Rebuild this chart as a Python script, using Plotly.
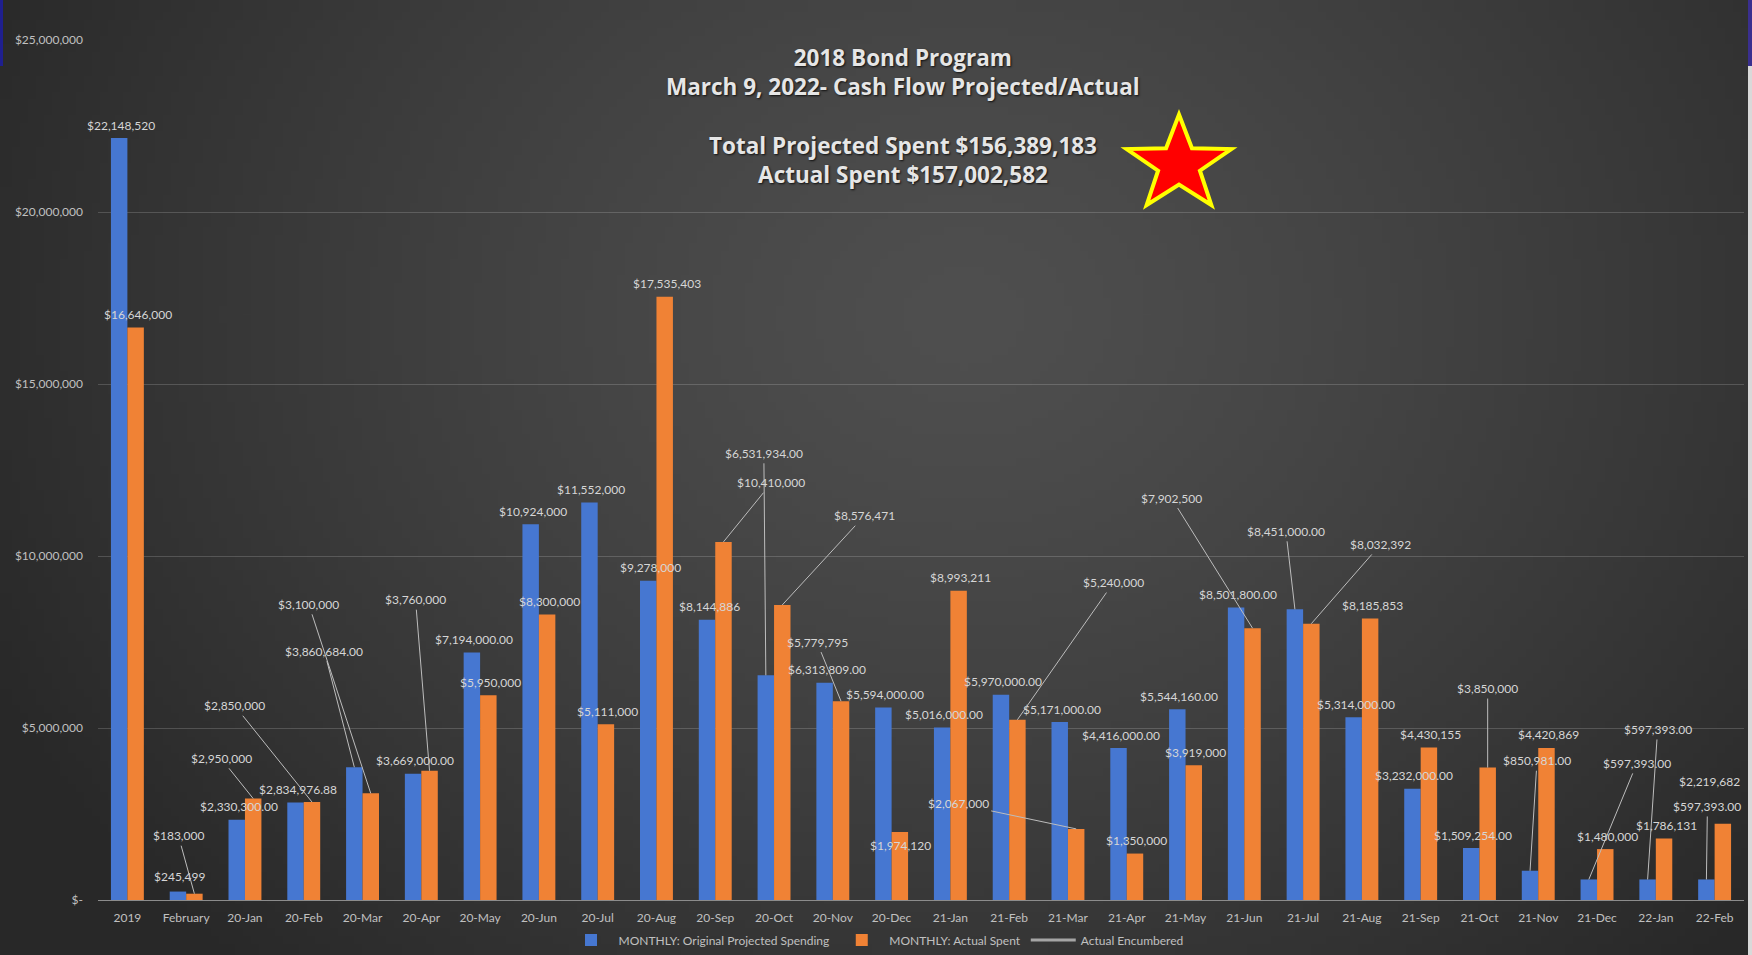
import base64
import struct
import zlib

import numpy as np
import plotly.graph_objects as go

# ---------------- data ----------------
categories = ["2019", "February", "20-Jan", "20-Feb", "20-Mar", "20-Apr", "20-May",
              "20-Jun", "20-Jul", "20-Aug", "20-Sep", "20-Oct", "20-Nov", "20-Dec",
              "21-Jan", "21-Feb", "21-Mar", "21-Apr", "21-May", "21-Jun", "21-Jul",
              "21-Aug", "21-Sep", "21-Oct", "21-Nov", "21-Dec", "22-Jan", "22-Feb"]

projected = [22148520, 245499, 2330300, 2834976.88, 3860684, 3669000, 7194000,
             10924000, 11552000, 9278000, 8144886, 6531934, 6313809, 5594000,
             5016000, 5970000, 5171000, 4416000, 5544160, 8501800, 8451000,
             5314000, 3232000, 1509254, 850981, 597393, 597393, 597393]

actual = [16646000, 183000, 2950000, 2850000, 3100000, 3760000, 5950000,
          8300000, 5111000, 17535403, 10410000, 8576471, 5779795, 1974120,
          8993211, 5240000, 2067000, 1350000, 3919000, 7902500, 8032392,
          8185853, 4430155, 3850000, 4420869, 1480000, 1786131, 2219682]

encumbered = [None] * len(categories)

projected_label_decimals = [False, False, True, True, True, True, True, False, False,
                            False, False, True, True, True, True, True, True, True,
                            True, True, True, True, True, True, True, True, True, True]
actual_label_decimals = [False] * len(categories)

y_tickvals = [0, 5000000, 10000000, 15000000, 20000000, 25000000]
y_ticktext = ["$-", "$5,000,000", "$10,000,000", "$15,000,000", "$20,000,000", "$25,000,000"]

title_lines = ["2018 Bond Program", "March 9, 2022- Cash Flow Projected/Actual",
               "Total Projected Spent $156,389,183", "Actual Spent $157,002,582"]

series_names = ["MONTHLY: Original Projected Spending", "MONTHLY: Actual Spent",
                "Actual Encumbered"]

# ---------------- layout geometry ----------------
W, H = 1752, 955
ML, MR, MT, MB = 98, 8, 40, 55
PW, PH = W - ML - MR, H - MT - MB


def px(x):
    return (x - ML) / PW


def py(y):
    return 1 - (y - MT) / PH


BLUE = "#4677d1"
ORANGE = "#f08235"
GREY = "#a5a5a5"
LABEL_COLOR = "#d6d6d6"
TICK_COLOR = "#c0c0c0"
FONT = "Lato"
TITLE_FONT = "Open Sans"

# background gradient image
gw, gh = 220, 120
xx, yy = np.meshgrid(np.linspace(0, 1, gw), np.linspace(0, 1, gh))
r = np.sqrt(((xx - 0.55) / 0.62) ** 2 + ((yy - 0.33) / 0.95) ** 2)
r = np.clip(r, 0, 1)
val = 79 - (79 - 40) * r ** 1.3
img = np.stack([val, val, val], axis=-1).astype(np.uint8)


def png_uri(arr):
    h, w, _ = arr.shape
    raw = b"".join(b"\x00" + arr[i].tobytes() for i in range(h))

    def chunk(t, d):
        c = struct.pack(">I", len(d)) + t + d
        return c + struct.pack(">I", zlib.crc32(t + d) & 0xFFFFFFFF)

    data = (b"\x89PNG\r\n\x1a\n"
            + chunk(b"IHDR", struct.pack(">IIBBBBB", w, h, 8, 2, 0, 0, 0))
            + chunk(b"IDAT", zlib.compress(raw, 9))
            + chunk(b"IEND", b""))
    return "data:image/png;base64," + base64.b64encode(data).decode()


# ---------------- figure ----------------
fig = go.Figure()
fig.add_trace(go.Bar(x=categories, y=projected, name=series_names[0],
                     marker=dict(color=BLUE, line=dict(width=0))))
fig.add_trace(go.Bar(x=categories, y=actual, name=series_names[1],
                     marker=dict(color=ORANGE, line=dict(width=0))))
fig.add_trace(go.Scatter(x=categories, y=encumbered, name=series_names[2], mode="lines",
                         line=dict(color=GREY, width=3)))

# label placement (pixel offsets of label centre from bar top) -- styling only
default_off = (2, -13, False)
proj_off = {1: (2, -15, False), 4: (-30, -116, True), 11: (-2, -222, True),
            20: (-9, -78, True), 24: (7, -110, True), 25: (48, -116, True),
            26: (10, -150, True), 27: (1, -73, True)}
act_off = {1: (-16, -58, True), 2: (-32, -40, True), 3: (-77, -96, True),
           4: (-62, -189, True), 5: (-14, -171, True), 10: (48, -59, True),
           11: (82, -89, True), 12: (-24, -59, True), 13: (1, 13, False),
           15: (96, -137, True), 16: (-118, -25, True), 19: (-81, -130, True),
           20: (69, -79, True), 23: (0, -79, True), 27: (-13, -42, False)}

bar_half = 8.2
annotations = []
for vals, decs, offs, shift in [(projected, projected_label_decimals, proj_off, -bar_half),
                                (actual, actual_label_decimals, act_off, bar_half)]:
    for i, v in enumerate(vals):
        txt = "${:,.2f}".format(v) if decs[i] else "${:,.0f}".format(v)
        dx, dy, leader = offs.get(i, default_off)
        a = dict(x=i, y=v, text=txt, xref="x", yref="y",
                 font=dict(family=FONT, size=12, color=LABEL_COLOR))
        if leader:
            a.update(showarrow=True, ax=dx, ay=dy, xshift=shift, arrowhead=0,
                     arrowwidth=1, arrowcolor="#bdbdbd", standoff=0, startstandoff=1)
        else:
            a.update(showarrow=False, xshift=shift + dx, yshift=-dy)
        annotations.append(a)

# titles (two blocks of two lines)
title_blocks = [((title_lines[0], title_lines[1]), 72), ((title_lines[2], title_lines[3]), 159.5)]
for (l1, l2), ypix in title_blocks:
    annotations.append(dict(x=px(903), y=py(ypix), xref="paper", yref="paper",
                            text="<b>" + l1 + "</b><br><b>" + l2 + "</b>",
                            showarrow=False, xanchor="center", yanchor="middle", align="center",
                            font=dict(family=TITLE_FONT, size=22.5, color="#e6e6e6",
                                      shadow="1px 1px 2px #111")))

# star
cx, cy, RX, RY, RIN = 1179, 164.5, 55, 50, 0.4
pts = []
for k in range(10):
    ang = -np.pi / 2 + k * np.pi / 5
    f = 1 if k % 2 == 0 else RIN
    pts.append((px(cx + f * RX * np.cos(ang)), py(cy + f * RY * np.sin(ang))))
star_path = "M " + " L ".join(f"{a:.5f},{b:.5f}" for a, b in pts) + " Z"

shapes = [
    dict(type="path", path=star_path, xref="paper", yref="paper",
         fillcolor="#ff0000", line=dict(color="#ffff00", width=4), layer="above"),
    dict(type="rect", xref="paper", yref="paper", x0=px(0), x1=px(3), y0=py(66), y1=py(0),
         fillcolor="#1f1f8f", line=dict(width=0)),
    dict(type="rect", xref="paper", yref="paper", x0=px(1748), x1=px(1753), y0=py(955), y1=py(66),
         fillcolor="#d9d9d9", line=dict(width=0)),
    dict(type="rect", xref="paper", yref="paper", x0=px(1748), x1=px(1753), y0=py(66), y1=py(0),
         fillcolor="#3a2f8f", line=dict(width=0)),
]

fig.update_layout(
    width=W, height=H, autosize=False,
    margin=dict(l=ML, r=MR, t=MT, b=MB, autoexpand=False),
    paper_bgcolor="#2e2e2e",
    plot_bgcolor="rgba(0,0,0,0)",
    barmode="group", bargap=0.44, bargroupgap=0,
    font=dict(family=FONT, color=TICK_COLOR),
    showlegend=True,
    legend=dict(orientation="h", x=px(876), xanchor="center", y=py(940), yanchor="middle",
                font=dict(family=FONT, size=12, color=TICK_COLOR), bgcolor="rgba(0,0,0,0)",
                traceorder="normal", itemwidth=45),
    annotations=annotations,
    shapes=shapes,
    images=[dict(source=png_uri(img), xref="paper", yref="paper", x=px(0), y=py(0),
                 sizex=W / PW, sizey=H / PH, xanchor="left", yanchor="top",
                 sizing="stretch", layer="below")],
    xaxis=dict(type="category", categoryorder="array", categoryarray=categories,
               range=[-0.5, len(categories) - 0.5], autorange=False,
               showgrid=False, showline=True, linecolor="#8c8c8c", tickangle=0,
               linewidth=1, ticks="", tickfont=dict(family=FONT, size=12, color=TICK_COLOR),
               ticklabelstandoff=7, zeroline=False, automargin=False),
    yaxis=dict(range=[0, 25000000], autorange=False, tickvals=y_tickvals, ticktext=y_ticktext,
               showgrid=True, gridcolor="rgba(255,255,255,0.17)", gridwidth=1,
               zeroline=False, showline=False, ticks="", automargin=False,
               tickfont=dict(family=FONT, size=12, color=TICK_COLOR), ticklabelstandoff=14),
)

fig.write_html("out.html",
               config={"displayModeBar": False, "responsive": False},
               post_script="document.body.style.margin='0';document.body.style.overflow='hidden';")
